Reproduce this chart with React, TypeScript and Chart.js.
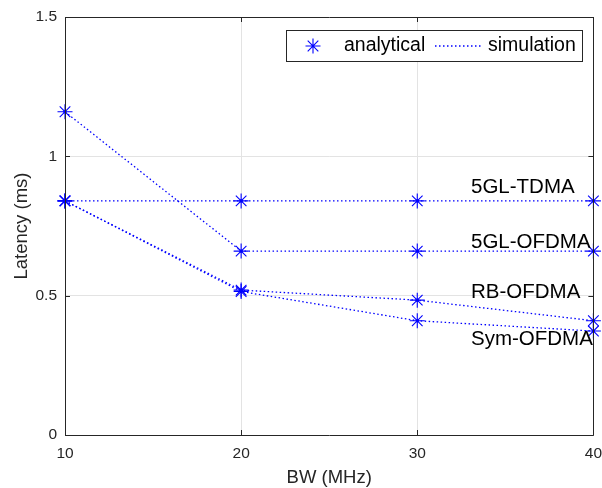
import React, { useEffect, useRef } from "react";
import { Chart, registerables } from "chart.js";

Chart.register(...registerables);

// ---- data ----
const bw = [10, 20, 30, 40];
const tdma5gl = [0.84, 0.84, 0.84, 0.84];
const ofdma5gl = [1.16, 0.66, 0.66, 0.66];
const rbOfdma = [0.84, 0.52, 0.484, 0.41];
const symOfdma = [0.84, 0.515, 0.41, 0.373];
const seriesValues = [tdma5gl, ofdma5gl, rbOfdma, symOfdma];
const seriesNames = ["5GL-TDMA", "5GL-OFDMA", "RB-OFDMA", "Sym-OFDMA"];
const labelX = [33.05, 33.05, 33.05, 33.05];
const labelY = [0.89, 0.693, 0.512, 0.343];
const xTickValues = [10, 20, 30, 40];
const yTickValues = [0, 0.5, 1, 1.5];
const legendNames = ["analytical", "simulation"];

const FONT = "'Liberation Sans', Arial, Helvetica, sans-serif";
const AXIS = "#262626";
const BLUE = "#0000ff";
const DASH = [1.5, 2.5];

function drawStar(ctx: CanvasRenderingContext2D, x: number, y: number, r: number) {
  ctx.beginPath();
  for (let i = 0; i < 4; i++) {
    const a = (i * Math.PI) / 4;
    ctx.moveTo(x - Math.cos(a) * r, y - Math.sin(a) * r);
    ctx.lineTo(x + Math.cos(a) * r, y + Math.sin(a) * r);
  }
  ctx.stroke();
}

const boxPlugin = {
  id: "boxPlugin",
  afterDatasetsDraw(chart: any) {
    const { ctx, chartArea } = chart;
    const xs = chart.scales.x;
    const ys = chart.scales.y;
    const { left, right, top, bottom } = chartArea;
    ctx.save();
    // series labels
    ctx.fillStyle = "#000";
    ctx.font = `20.5px ${FONT}`;
    ctx.textAlign = "left";
    ctx.textBaseline = "middle";
    seriesNames.forEach((n, i) => {
      ctx.fillText(n, xs.getPixelForValue(labelX[i]), ys.getPixelForValue(labelY[i]));
    });
    // box
    ctx.strokeStyle = AXIS;
    ctx.lineWidth = 1;
    ctx.beginPath();
    ctx.rect(Math.round(left) + 0.5, Math.round(top) + 0.5, Math.round(right - left), Math.round(bottom - top));
    ctx.stroke();
    // inward ticks
    const tl = 5;
    ctx.beginPath();
    xTickValues.forEach((v) => {
      const px = Math.round(xs.getPixelForValue(v)) + 0.5;
      ctx.moveTo(px, bottom);
      ctx.lineTo(px, bottom - tl);
      ctx.moveTo(px, top);
      ctx.lineTo(px, top + tl);
    });
    yTickValues.forEach((v) => {
      const py = Math.round(ys.getPixelForValue(v)) + 0.5;
      ctx.moveTo(left, py);
      ctx.lineTo(left + tl, py);
      ctx.moveTo(right, py);
      ctx.lineTo(right - tl, py);
    });
    ctx.stroke();
    // legend
    const lx = left + 221;
    const ly = top + 13;
    const lw = 296;
    const lh = 31;
    ctx.fillStyle = "#fff";
    ctx.fillRect(lx, ly, lw, lh);
    ctx.strokeStyle = AXIS;
    ctx.strokeRect(Math.round(lx) + 0.5, Math.round(ly) + 0.5, lw, lh);
    const cy = ly + lh / 2 + 0.5;
    ctx.strokeStyle = BLUE;
    ctx.lineWidth = 1.1;
    drawStar(ctx, lx + 27, cy, 7.5);
    ctx.fillStyle = "#000";
    ctx.font = `19.5px ${FONT}`;
    ctx.textAlign = "left";
    ctx.fillText(legendNames[0], lx + 58, cy);
    ctx.setLineDash(DASH);
    ctx.lineWidth = 1.3;
    ctx.beginPath();
    ctx.moveTo(lx + 149, cy);
    ctx.lineTo(lx + 195, cy);
    ctx.stroke();
    ctx.setLineDash([]);
    ctx.fillText(legendNames[1], lx + 202, cy);
    ctx.restore();
  },
};

export default function App() {
  const ref = useRef<HTMLCanvasElement | null>(null);
  useEffect(() => {
    document.body.style.margin = "0";
    if (!ref.current) return;
    const datasets: any[] = [];
    seriesValues.forEach((vals, i) => {
      datasets.push({
        label: seriesNames[i] + " simulation",
        data: bw.map((x, j) => ({ x, y: vals[j] })),
        borderColor: BLUE,
        backgroundColor: BLUE,
        borderWidth: 1.3,
        borderDash: DASH,
        pointRadius: 1.6,
        pointStyle: "circle",
        pointBorderWidth: 0,
        showLine: true,
        fill: false,
        tension: 0,
      });
      datasets.push({
        label: seriesNames[i] + " analytical",
        data: bw.map((x, j) => ({ x, y: vals[j] })),
        borderColor: BLUE,
        backgroundColor: BLUE,
        showLine: false,
        pointStyle: "star",
        pointRadius: 7.5,
        pointBorderWidth: 1.1,
      });
    });
    const chart = new Chart(ref.current, {
      type: "scatter",
      data: { datasets },
      options: {
        animation: false,
        responsive: false,
        clip: false,
        layout: { padding: { top: 17, right: 5, left: 0, bottom: 0 } },
        plugins: { legend: { display: false }, tooltip: { enabled: false } },
        scales: {
          x: {
            type: "linear",
            min: 10,
            max: 40,
            afterBuildTicks: (s: any) => {
              s.ticks = xTickValues.map((v) => ({ value: v }));
            },
            afterFit: (s: any) => {
              s.height = 53;
              s.paddingLeft = 0;
              s.paddingRight = 0;
            },
            grid: { color: "#e3e3e3", drawTicks: false },
            border: { display: false },
            ticks: {
              color: AXIS,
              font: { family: FONT, size: 15.5 },
              padding: 9,
              maxRotation: 0,
              callback: (v: any) => String(v),
            },
            title: {
              display: true,
              text: "BW (MHz)",
              color: AXIS,
              font: { family: FONT, size: 18.5, lineHeight: 1.1 },
              padding: { top: 0, bottom: 0 },
            },
          },
          y: {
            type: "linear",
            min: 0,
            max: 1.5,
            afterBuildTicks: (s: any) => {
              s.ticks = yTickValues.map((v) => ({ value: v }));
            },
            afterFit: (s: any) => {
              s.width = 65;
              s.paddingTop = 0;
              s.paddingBottom = 0;
            },
            grid: { color: "#e3e3e3", drawTicks: false },
            border: { display: false },
            ticks: {
              color: AXIS,
              font: { family: FONT, size: 15.5 },
              padding: 8,
              callback: (v: any) => String(v),
            },
            title: {
              display: true,
              text: "Latency (ms)",
              color: AXIS,
              font: { family: FONT, size: 18.5, lineHeight: 1.1 },
              padding: { top: 12, bottom: 0 },
            },
          },
        },
      },
      plugins: [boxPlugin],
    });
    return () => chart.destroy();
  }, []);
  return (
    <div style={{ position: "absolute", left: 0, top: 0, width: 602, height: 488, background: "#fff" }}>
      <canvas ref={ref} width={602} height={488} style={{ display: "block" }} />
    </div>
  );
}
